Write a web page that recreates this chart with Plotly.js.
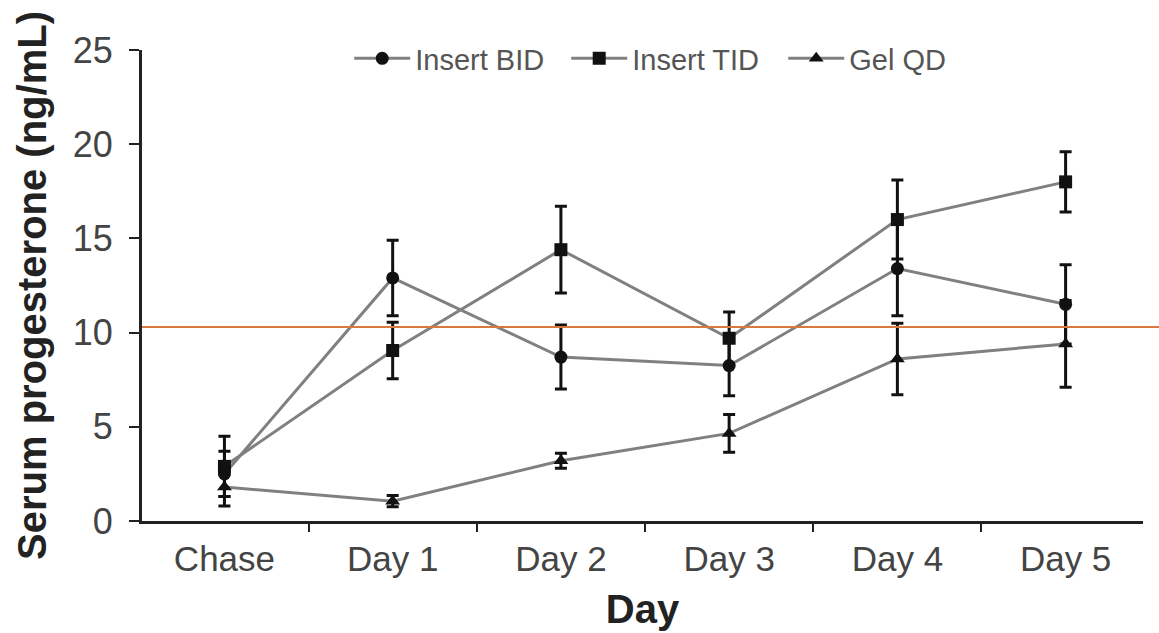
<!DOCTYPE html>
<html>
<head>
<meta charset="utf-8">
<script src="https://cdn.plot.ly/plotly-3.0.1.min.js"></script>
<style>html,body{margin:0;padding:0;background:#fff;}#chart{width:1159px;height:633px;}</style>
</head>
<body>
<div id="chart"></div>
<script>
var categories = ["Chase", "Day 1", "Day 2", "Day 3", "Day 4", "Day 5"];
var seriesNames = ["Insert BID", "Insert TID", "Gel QD"];
var insertBID = [2.5, 12.9, 8.7, 8.25, 13.4, 11.5];
var insertBIDErr = [1.2, 2.0, 1.7, 1.6, 2.5, 2.1];
var insertTID = [2.9, 9.05, 14.4, 9.7, 16.0, 18.0];
var insertTIDErr = [1.6, 1.5, 2.3, 1.4, 2.1, 1.6];
var gelQD = [1.8, 1.05, 3.2, 4.65, 8.6, 9.4];
var gelQDErr = [1.0, 0.3, 0.4, 1.0, 1.9, 2.3];
var yTicks = [0, 5, 10, 15, 20, 25];
var referenceLevel = 10.3;

function trace(name, y, err, symbol) {
  return {
    type: "scatter", mode: "lines+markers", name: name,
    x: categories, y: y,
    line: {color: "#808080", width: 3},
    marker: {color: "#111", size: 13, symbol: symbol},
    error_y: {type: "data", array: err, visible: true, color: "#111", thickness: 3, width: 6}
  };
}

var data = [
  trace(seriesNames[0], insertBID, insertBIDErr, "circle"),
  trace(seriesNames[1], insertTID, insertTIDErr, "square"),
  trace(seriesNames[2], gelQD, gelQDErr, "triangle-up")
];

var layout = {
  width: 1159, height: 633,
  margin: {l: 142, r: 16, t: 50, b: 112},
  paper_bgcolor: "#fff", plot_bgcolor: "#fff",
  font: {family: "Liberation Sans, Arial, sans-serif", color: "#555"},
  showlegend: true,
  legend: {orientation: "h", x: 0.207, xanchor: "left", y: 0.982, yanchor: "middle",
           itemwidth: 56, entrywidth: 146, entrywidthmode: "pixels",
           bgcolor: "rgba(0,0,0,0)", font: {size: 29, color: "#555"}},
  xaxis: {
    type: "category", range: [-0.49, 5.46],
    showline: true, linecolor: "#222", linewidth: 3,
    ticks: "outside", tickson: "boundaries", ticklen: 8, tickcolor: "#222", tickwidth: 2,
    tickfont: {size: 35, color: "#444"}, ticklabelstandoff: 5,
    showgrid: false, zeroline: false,
    title: {text: "<b>Day</b>", font: {size: 40, color: "#222"}, standoff: 18}
  },
  yaxis: {
    range: [0, 25], tickvals: yTicks,
    showline: true, linecolor: "#222", linewidth: 3,
    ticks: "outside", ticklen: 10, tickcolor: "#222", tickwidth: 2,
    tickfont: {size: 36, color: "#444"}, ticklabelstandoff: 9,
    showgrid: false, zeroline: false,
    title: {text: "<b>Serum progesterone (ng/mL)</b>", font: {size: 40, color: "#222"}, standoff: 14}
  },
  shapes: [{type: "line", xref: "paper", yref: "y", x0: 0, x1: 1.017, y0: referenceLevel, y1: referenceLevel,
            line: {color: "#d9793f", width: 2}}]
};

Plotly.newPlot("chart", data, layout, {displayModeBar: false, staticPlot: true});
</script>
</body>
</html>
